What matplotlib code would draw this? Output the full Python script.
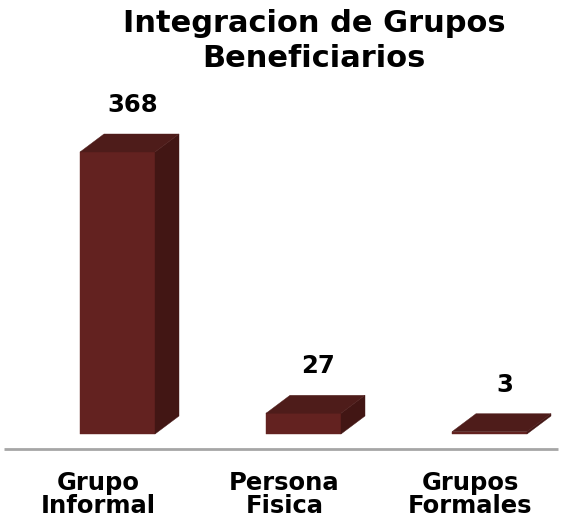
import matplotlib
matplotlib.use("Agg")
import matplotlib.pyplot as plt
from matplotlib.patches import Polygon

# Data
categories = ["Grupo\nInformal", "Persona\nFisica", "Grupos\nFormales"]
values = [368, 27, 3]
title = "Integracion de Grupos\nBeneficiarios"

# Colours of the 3D faces
front_col = "#632220"
top_col = "#4e1c1a"
side_col = "#421614"

W, H = 561, 528
fig = plt.figure(figsize=(W / 100, H / 100), dpi=100)
ax = fig.add_axes([0, 0, 1, 1])

# axis scales (1 x-unit = 186 px, value 0 at 94 px from bottom)
px_x = 1 / 186
px_y = 368 / 282
ax.set_xlim(-117.5 * px_x, (W - 117.5) * px_x)
ax.set_ylim(-94 * px_y, (H - 94) * px_y)
ax.axis("off")

half = 37.5 * px_x
dx = 24 * px_x
dy = 18 * px_y

for i, v in enumerate(values):
    x0, x1 = i - half, i + half
    # front face
    ax.add_patch(Polygon([(x0, 0), (x1, 0), (x1, v), (x0, v)], closed=True,
                         facecolor=front_col, edgecolor=front_col, linewidth=0.3))
    # side face
    ax.add_patch(Polygon([(x1, 0), (x1 + dx, dy), (x1 + dx, v + dy), (x1, v)], closed=True,
                         facecolor=side_col, edgecolor=side_col, linewidth=0.3))
    # top face
    ax.add_patch(Polygon([(x0, v), (x1, v), (x1 + dx, v + dy), (x0 + dx, v + dy)], closed=True,
                         facecolor=top_col, edgecolor=top_col, linewidth=0.3))
    ax.text(i + 15 * px_x, v + dy + 22 * px_y, str(v), ha="center", va="baseline",
            fontsize=17.5, fontweight="bold", color="black")
    ax.text(i - 19 * px_x, -48, categories[i], ha="center", va="top",
            fontsize=17.5, fontweight="bold", color="black", linespacing=0.95)

# floor line
ax.plot([-113.5 * px_x, (W - 120.5) * px_x], [-15 * px_y, -15 * px_y],
        color="#a6a6a6", linewidth=2, solid_capstyle="butt")

fig.text(314 / W, 1 - 9 / H, title, ha="center", va="top", fontsize=22,
         fontweight="bold", color="black", linespacing=1.25)

fig.savefig("out.png", dpi=100)
